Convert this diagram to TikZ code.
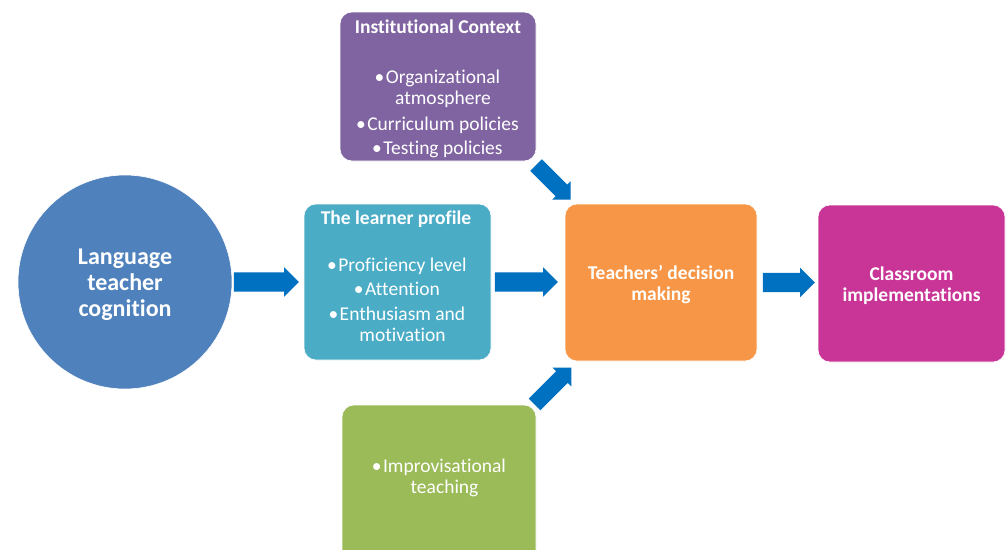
\documentclass[tikz,border=0pt]{standalone}
\usepackage{fontspec}
\setmainfont{Carlito}[Ligatures=CommonOff]
\usetikzlibrary{shapes.arrows}
\definecolor{cblue}{HTML}{4F81BD}
\definecolor{cpurple}{HTML}{8064A2}
\definecolor{cteal}{HTML}{4BACC6}
\definecolor{corange}{HTML}{F79646}
\definecolor{cmagenta}{HTML}{C93596}
\definecolor{cgreen}{HTML}{9BBB59}
\definecolor{carrow}{HTML}{0070C0}
\tikzset{
  boxstyle/.style={rectangle, rounded corners=12pt, draw=white, line width=0.6pt, inner sep=0pt},
  txt/.style={text=white, align=center, inner sep=0pt, font=\fontsize{19.5}{21}\selectfont},
  btxt/.style={text=white, align=center, inner sep=0pt, font=\fontsize{19.5}{21}\selectfont\bfseries},
  bigtxt/.style={text=white, align=center, inner sep=0pt, font=\fontsize{24}{26}\selectfont\bfseries},
  blockarrow/.style={single arrow, fill=carrow, draw=none, inner xsep=0pt, inner ysep=9.5pt,
    single arrow head extend=5pt, single arrow head indent=0pt, single arrow tip angle=90},
  diagarrow/.style={blockarrow, inner ysep=8pt},
}
\newcommand{\bul}{\llap{•\kern1.5pt}}
\begin{document}
\begin{tikzpicture}[x=1pt,y=-1pt]
\clip (0,0) rectangle (1006,549);
\fill[white] (0,0) rectangle (1006,549);
% shapes
\node[circle, fill=cblue, draw=white, line width=0.6pt, minimum size=214pt, inner sep=0pt] (circ) at (125,282) {};
\node[boxstyle, fill=cpurple, minimum width=196pt, minimum height=149pt] (inst) at (438,86.5) {};
\node[boxstyle, fill=cteal, minimum width=187pt, minimum height=156pt] (learn) at (397.5,282) {};
\node[boxstyle, fill=corange, minimum width=192pt, minimum height=157pt] (dec) at (661,282.5) {};
\node[boxstyle, fill=cmagenta, minimum width=187pt, minimum height=157pt] (cls) at (911.5,283.5) {};
\node[boxstyle, fill=cgreen, minimum width=194pt, minimum height=160pt] (imp) at (439,485) {};
% texts
\node[bigtxt] (tcirc) at (125,285) {Language\\teacher\\cognition};
\node[btxt, anchor=base] (tinst) at (438,33) {Institutional Context};
\node[txt, anchor=base] (iinst) at (443,154) {\bul Organizational\\atmosphere\\[4.5pt]\bul Curriculum policies\\[3pt]\bul Testing policies};
\node[btxt, anchor=base] (tlearn) at (396,224) {The learner profile};
\node[txt, anchor=base] (ilearn) at (402.5,341) {\bul Proficiency level\\[3pt]\bul Attention\\[4pt]\bul Enthusiasm and\\motivation};
\node[btxt] (tdec) at (661,284.5) {Teachers’ decision\\making};
\node[btxt] (tcls) at (911.5,285.5) {Classroom\\implementations};
\node[txt] (timp) at (444.5,478) {\bul Improvisational\\teaching};
% arrows
\node[blockarrow, minimum height=65pt] (a1) at (261.5,282) {};
\node[blockarrow, minimum height=63pt] (a2) at (521.5,282) {};
\node[blockarrow, minimum height=52pt] (a3) at (784,282.5) {};
\node[diagarrow, minimum height=49pt, rotate=-45] (a4) at (550.5,179.5) {};
\node[diagarrow, minimum height=52pt, rotate=45] (a5) at (550,389) {};
\end{tikzpicture}
\end{document}
